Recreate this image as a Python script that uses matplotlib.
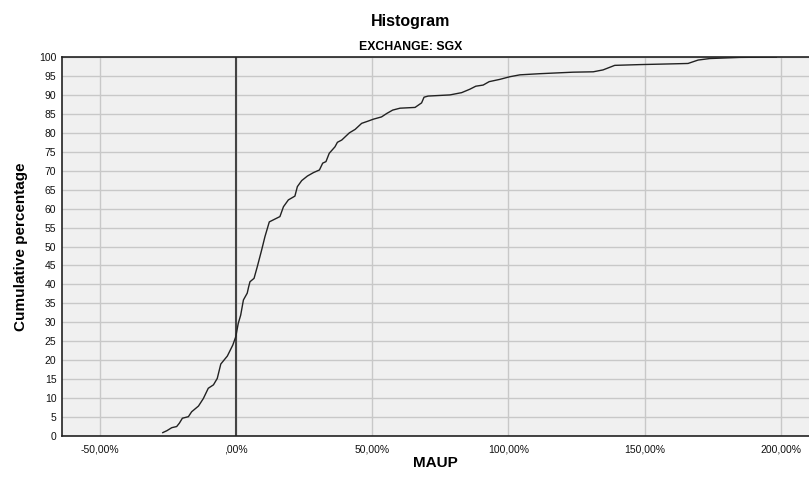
import matplotlib
matplotlib.use("Agg")
import matplotlib.pyplot as plt
from matplotlib.ticker import FixedLocator, FixedFormatter

plt.rcParams['font.family'] = ['Liberation Sans', 'DejaVu Sans']

# cumulative curve (MAUP in %, cumulative percent)
maup = [-26.9, -25.4, -23.6, -21.8, -20.8, -19.7, -17.5, -16.3, -13.8, -12.0,
        -10.2, -8.3, -6.9, -5.6, -3.2, -1.2, -0.1, 0.8, 1.7, 2.7,
        4.1, 4.6, 5.1, 6.6, 7.8, 9.4, 10.6, 12.2, 16.1, 17.4,
        19.2, 21.6, 22.5, 24.1, 26.2, 28.4, 30.6, 31.8, 33.0, 34.2,
        36.3, 37.2, 38.8, 41.6, 43.7, 46.1, 48.5, 50.4, 53.4, 55.3,
        57.5, 60.2, 65.7, 66.9, 68.1, 69.0, 70.5, 78.5, 82.8, 85.8,
        88.0, 90.7, 92.9, 96.8, 100.5, 104.2, 111.5, 123.7, 131.1, 134.7,
        139.0, 148.2, 160.4, 165.9, 169.6, 173.9, 184.9, 198.3]
cum_pct = [0.9, 1.4, 2.2, 2.5, 3.4, 4.7, 5.1, 6.4, 7.9, 9.9,
           12.6, 13.5, 15.2, 19.0, 21.1, 24.0, 26.2, 29.7, 31.9, 35.9,
           37.7, 39.3, 40.7, 41.6, 44.7, 49.1, 52.6, 56.5, 57.9, 60.5,
           62.3, 63.3, 65.8, 67.4, 68.6, 69.5, 70.2, 72.0, 72.4, 74.6,
           76.3, 77.5, 78.1, 80.0, 80.9, 82.5, 83.1, 83.6, 84.2, 85.1,
           86.0, 86.5, 86.7, 87.3, 87.9, 89.4, 89.7, 90.0, 90.6, 91.5,
           92.3, 92.6, 93.5, 94.1, 94.8, 95.3, 95.6, 96.0, 96.1, 96.6,
           97.8, 98.0, 98.2, 98.3, 99.2, 99.6, 99.9, 100.0]

x_ticks = [-50, 0, 50, 100, 150, 200]
x_labels = ['-50,00%', ',00%', '50,00%', '100,00%', '150,00%', '200,00%']
y_ticks = list(range(0, 101, 5))

fig = plt.figure(figsize=(8.09, 4.82), dpi=100)
ax = fig.add_axes([0.0766, 0.0954, 0.9234, 0.7863])
ax.set_facecolor('#f0f0f0')

ax.plot(maup, cum_pct, color='#222222', lw=1.0, zorder=3)
ax.axvline(0, color='#444444', lw=1.5, zorder=2)

ax.set_xlim(-63.9, 210.3)
ax.set_ylim(0, 100)
ax.xaxis.set_major_locator(FixedLocator(x_ticks))
ax.xaxis.set_major_formatter(FixedFormatter(x_labels))
ax.set_yticks(y_ticks)
ax.grid(True, color='#c8c8c8', lw=1.0, zorder=0)
ax.set_axisbelow(True)
ax.tick_params(axis='both', length=0, labelsize=7.5, colors='#111111')
ax.tick_params(axis='x', pad=6)
ax.tick_params(axis='y', pad=4)

for s in ['left', 'bottom', 'top']:
    ax.spines[s].set_color('#222222')
    ax.spines[s].set_linewidth(1.2)
ax.spines['right'].set_visible(False)

ax.set_xlabel('MAUP', fontsize=11, fontweight='bold', labelpad=1)
ax.set_ylabel('Cumulative percentage', fontsize=11, fontweight='bold', labelpad=8)

fig.text(0.507, 0.956, 'Histogram', ha='center', va='center', fontsize=11.5, fontweight='bold')
fig.text(0.507, 0.902, 'EXCHANGE: SGX', ha='center', va='center', fontsize=8.8, fontweight='bold')

fig.savefig('out.png', dpi=100)
